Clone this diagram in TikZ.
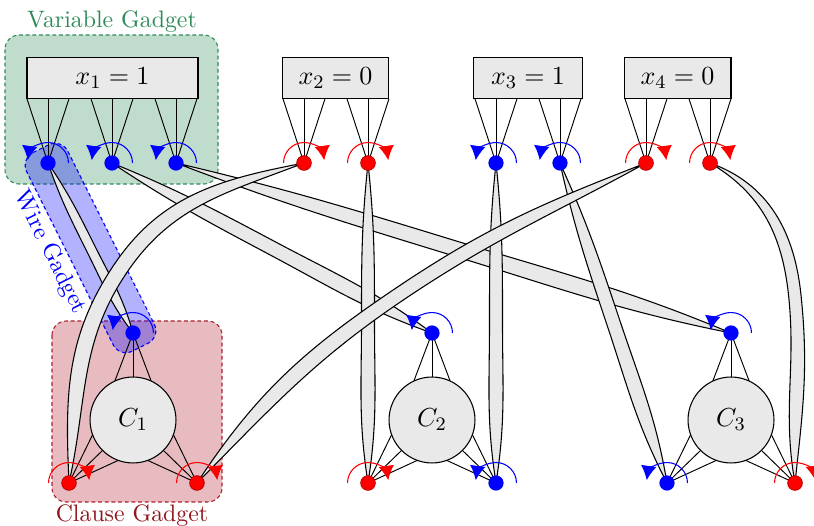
\documentclass[tikz,border=0pt]{standalone}
\usetikzlibrary{arrows.meta,calc}
\definecolor{vgreen}{RGB}{46,139,87}
\definecolor{cred}{RGB}{175,30,45}
\definecolor{credtext}{RGB}{145,22,30}
\definecolor{lightfill}{RGB}{233,233,233}
\pgfdeclarelayer{bg}
\pgfdeclarelayer{mid}
\pgfsetlayers{bg,mid,main}
\tikzset{
  bdot/.style={circle, fill=blue, minimum size=6.4pt, inner sep=0pt, outer sep=0pt},
  rdot/.style={circle, fill=red, draw=red!70!black, line width=0.3pt, minimum size=6.2pt, inner sep=0pt, outer sep=0pt},
  varbox/.style={draw, fill=lightfill, line width=0.45pt, minimum height=17.6pt, inner sep=0pt, outer sep=0pt, font=\fontsize{11}{13}\selectfont},
  clause/.style={circle, draw, fill=lightfill, line width=0.45pt, minimum size=36.1pt, inner sep=0pt, outer sep=0pt, font=\fontsize{11}{13}\selectfont},
  wire/.style={draw=black, fill=lightfill, line width=0.45pt, line join=round},
  leg/.style={line width=0.4pt},
  barc/.style={blue, line width=0.45pt, -{Latex[length=6pt,width=6.5pt]}},
  rarc/.style={red, line width=0.45pt, -{Latex[length=6pt,width=6.5pt]}},
  gadgetline/.style={dash pattern=on 1.6pt off 1.2pt, line width=0.45pt, rounded corners=6pt},
  glabel/.style={font=\fontsize{10}{12}\selectfont, inner sep=0pt},
}
\newcommand\varlegs[2]{%
  \draw[leg] (#1.center) -- (#1.center |- #2.south);
  \draw[leg] (#1.center) -- ($(#1.center |- #2.south)+(-8.8pt,0)$);
  \draw[leg] (#1.center) -- ($(#1.center |- #2.south)+(8.8pt,0)$);}
\newcommand\clegs[5]{%
  \draw[leg] (#1.center) -- (#2.#3);
  \draw[leg] (#1.center) -- (#2.#4);
  \draw[leg] (#1.center) -- (#2.#5);}
\newcommand\blarc[1]{\draw[barc] ($(#1.center)+(0:8.6pt)$) arc[start angle=0,end angle=172,radius=8.6pt];}
\newcommand\rdarc[1]{\draw[rarc] ($(#1.center)+(180:8.6pt)$) arc[start angle=180,end angle=8,radius=8.6pt];}
% tapered wire: #1 from, #2 to, #3 out angle, #4 in angle, #5 mid tangent,
% #6 looseness, #7 half width, #8 taper angle at start, #9 taper angle at end
\newcommand\wire[9]{%
  \path (#1.center) to[out=#3,in=#4,looseness=#6] coordinate[pos=0.5] (#1#2m) (#2.center);
  \pgfmathsetmacro\wOa{#3+#8}\pgfmathsetmacro\wIa{#3-#8}%
  \pgfmathsetmacro\wOb{#4+#9}\pgfmathsetmacro\wIb{#4-#9}%
  \pgfmathsetmacro\wPb{#5+180}\pgfmathsetmacro\wL{#5+90}\pgfmathsetmacro\wR{#5-90}%
  \draw[wire] (#1.center) to[out=\wOa,in=\wPb] ($(#1#2m)+(\wL:#7)$)
     to[out=#5,in=\wIb] (#2.center)
     to[out=\wOb,in=#5] ($(#1#2m)+(\wR:#7)$)
     to[out=\wPb,in=\wIa] (#1.center) -- cycle;}

\begin{document}
\begin{tikzpicture}[x=0.42pt,y=0.42pt]
\useasboundingbox (0,0) rectangle (814,-526);

% background gadgets
\begin{pgfonlayer}{bg}
  \draw[gadgetline, draw=vgreen, fill=vgreen, fill opacity=0.3] (5,-35) rectangle (218,-184);
  \draw[gadgetline, draw=cred, fill=cred, fill opacity=0.3] (52,-321) rectangle (222,-502);
  \begin{scope}[shift={(90.5,-248)}, rotate=-63.43]
    \draw[gadgetline, draw=blue, fill=blue, fill opacity=0.3] (-111,-23) rectangle (111,23);
    \node[glabel, text=blue, rotate=-63.43] (wg) at (-14,-38) {Wire Gadget};
  \end{scope}
  \node[glabel, text=vgreen, anchor=base] (vg) at (112,-28) {Variable Gadget};
  \node[glabel, text=credtext, anchor=base] (cg) at (132,-522) {Clause Gadget};
\end{pgfonlayer}

% variable boxes
\node[varbox, minimum width=71.8pt] (X1) at (112.5,-78) {$x_1 = 1$};
\node[varbox, minimum width=44.9pt] (X2) at (335.5,-78) {$x_2 = 0$};
\node[varbox, minimum width=45.4pt] (X3) at (528,-78) {$x_3 = 1$};
\node[varbox, minimum width=44.9pt] (X4) at (677.5,-78) {$x_4 = 0$};

% literal dots
\node[bdot] (v11) at (48,-163) {};
\node[bdot] (v12) at (112,-163) {};
\node[bdot] (v13) at (176,-163) {};
\node[rdot] (v21) at (304,-163) {};
\node[rdot] (v22) at (368,-163) {};
\node[bdot] (v31) at (496,-163) {};
\node[bdot] (v32) at (560,-163) {};
\node[rdot] (v41) at (646,-163) {};
\node[rdot] (v42) at (710,-163) {};

% clauses
\node[clause] (C1) at (133,-420) {$C_1$};
\node[clause] (C2) at (432,-420) {$C_2$};
\node[clause] (C3) at (731,-420) {$C_3$};
\node[bdot] (c1t) at (133,-333) {};
\node[rdot] (c1l) at (69,-483) {};
\node[rdot] (c1r) at (197,-483) {};
\node[bdot] (c2t) at (432,-333) {};
\node[rdot] (c2l) at (368,-483) {};
\node[bdot] (c2r) at (496,-483) {};
\node[bdot] (c3t) at (731,-333) {};
\node[bdot] (c3l) at (667,-483) {};
\node[rdot] (c3r) at (795,-483) {};

\begin{pgfonlayer}{mid}
  \varlegs{v11}{X1} \varlegs{v12}{X1} \varlegs{v13}{X1}
  \varlegs{v21}{X2} \varlegs{v22}{X2}
  \varlegs{v31}{X3} \varlegs{v32}{X3}
  \varlegs{v41}{X4} \varlegs{v42}{X4}
  \clegs{c1t}{C1}{65}{90}{115}
  \clegs{c1l}{C1}{200}{225}{250}
  \clegs{c1r}{C1}{290}{315}{340}
  \clegs{c2t}{C2}{65}{90}{115}
  \clegs{c2l}{C2}{200}{225}{250}
  \clegs{c2r}{C2}{290}{315}{340}
  \clegs{c3t}{C3}{65}{90}{115}
  \clegs{c3l}{C3}{200}{225}{250}
  \clegs{c3r}{C3}{290}{315}{340}
  % wires
  \wire{v11}{c1t}{-63.43}{116.57}{-63.43}{1}{4.8}{7.5}{11}
  \wire{v12}{c2t}{-27.98}{152.02}{-27.98}{1}{7}{5.7}{8.5}
  \wire{v13}{c3t}{-17.03}{162.97}{-17.03}{1}{7.5}{3.8}{5.7}
  \wire{v21}{c1l}{196}{85}{236}{1.3}{7.5}{5.1}{7.6}
  \wire{v22}{c2l}{-90}{90}{-90}{1}{6.5}{6}{9}
  \wire{v31}{c2r}{-90}{90}{-90}{1}{6.5}{6}{9}
  \wire{v32}{c3l}{-71.51}{108.49}{-71.51}{1}{6.8}{5.9}{8.9}
  \wire{v41}{c1r}{205}{51}{214}{1}{7}{3.8}{5.7}
  \wire{v42}{c3r}{-25}{92}{-84}{1}{6.2}{5.5}{8.2}
\end{pgfonlayer}

% rotation arcs
\blarc{v11} \blarc{v12} \blarc{v13}
\rdarc{v21} \rdarc{v22}
\blarc{v31} \blarc{v32}
\rdarc{v41} \rdarc{v42}
\blarc{c1t} \rdarc{c1l} \rdarc{c1r}
\blarc{c2t} \rdarc{c2l} \blarc{c2r}
\blarc{c3t} \blarc{c3l} \rdarc{c3r}
\end{tikzpicture}
\end{document}
